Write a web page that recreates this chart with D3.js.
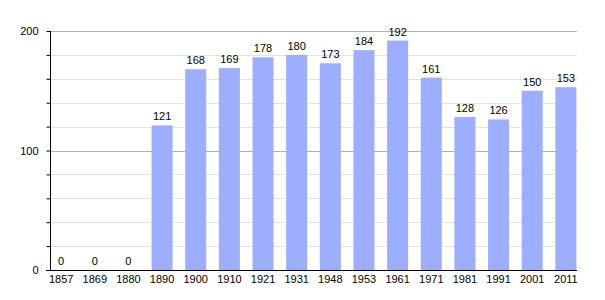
<!DOCTYPE html>
<html>
<head>
<meta charset="utf-8">
<script src="https://cdn.jsdelivr.net/npm/d3@7"></script>
<style>
  body { margin: 0; background: #fff; }
  text { font-family: "Liberation Sans", Arial, sans-serif; font-size: 11px; fill: #000; }
</style>
</head>
<body>
<div id="chart"></div>
<script>
var years = ["1857", "1869", "1880", "1890", "1900", "1910", "1921", "1931",
             "1948", "1953", "1961", "1971", "1981", "1991", "2001", "2011"];
var population = [0, 0, 0, 121, 168, 169, 178, 180, 173, 184, 192, 161, 128, 126, 150, 153];
var yTicks = [0, 100, 200];

var svgWidth = 605, svgHeight = 300;
var plotLeft = 50, plotRight = 577, plotTop = 31, plotBottom = 270;

var svg = d3.select("#chart")
  .append("svg")
  .attr("width", svgWidth)
  .attr("height", svgHeight);

var x = d3.scaleBand()
  .domain(years)
  .range([38, 589])
  .padding(0.375);

var y = d3.scaleLinear()
  .domain([0, 200])
  .range([plotBottom, plotTop]);

// minor gridlines every 20
svg.append("g")
  .selectAll("line")
  .data(d3.range(20, 200, 20).filter(d => d % 100 !== 0))
  .enter()
  .append("line")
  .attr("x1", plotLeft)
  .attr("x2", plotRight)
  .attr("y1", d => Math.round(y(d)) + 0.5)
  .attr("y2", d => Math.round(y(d)) + 0.5)
  .attr("stroke", "#e2e2e2");

// major gridlines
svg.append("g")
  .selectAll("line")
  .data([100, 200])
  .enter()
  .append("line")
  .attr("x1", plotLeft)
  .attr("x2", plotRight)
  .attr("y1", d => Math.round(y(d)) + 0.5)
  .attr("y2", d => Math.round(y(d)) + 0.5)
  .attr("stroke", "#b0b0b0");

// bars
svg.append("g")
  .selectAll("rect")
  .data(population)
  .enter()
  .append("rect")
  .attr("x", (d, i) => x(years[i]))
  .attr("y", d => y(d))
  .attr("width", x.bandwidth())
  .attr("height", d => plotBottom - y(d))
  .attr("fill", "#9daeff");

// value labels
svg.append("g")
  .selectAll("text")
  .data(population)
  .enter()
  .append("text")
  .attr("x", (d, i) => x(years[i]) + x.bandwidth() / 2)
  .attr("y", d => y(d) - 5)
  .attr("text-anchor", "middle")
  .text(d => d);

// y axis
var yAxis = svg.append("g")
  .attr("transform", `translate(${plotLeft + 0.5},0)`)
  .call(d3.axisLeft(y).tickValues(d3.range(0, 201, 20)).tickSize(4)
    .tickFormat(d => yTicks.includes(d) ? d : ""));
yAxis.select(".domain").attr("stroke", "#000").attr("d", `M0,${plotTop}V${plotBottom}`);
yAxis.selectAll(".tick line").attr("stroke", "#000");
yAxis.selectAll(".tick text").attr("x", -12).style("font-size", "11px").attr("font-family", null);

// x axis
var xAxis = svg.append("g")
  .attr("transform", `translate(0,${plotBottom + 0.5})`)
  .call(d3.axisBottom(x).tickSize(0).tickPadding(5));
xAxis.select(".domain").attr("stroke", "#000").attr("d", `M46,0H${plotRight}`);
xAxis.selectAll(".tick text").style("font-size", "11px").attr("font-family", null);
</script>
</body>
</html>
